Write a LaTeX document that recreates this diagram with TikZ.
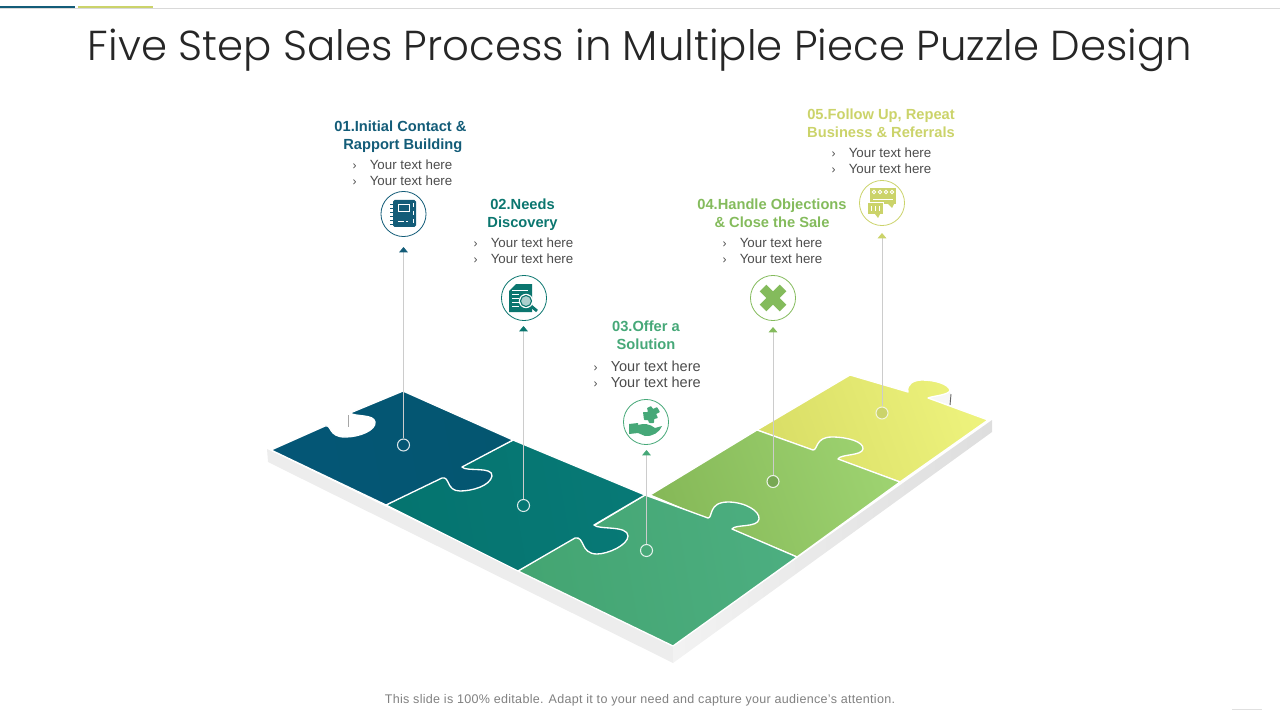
\documentclass[tikz,border=0pt]{standalone}
\usepackage{fontspec}
\setmainfont{Liberation Sans}
\newfontfamily\titlefont{Poppins Light}
\usetikzlibrary{arrows.meta}
\definecolor{cA}{HTML}{135C78}
\definecolor{cB}{HTML}{0B766F}
\definecolor{cC}{HTML}{46A878}
\definecolor{cD}{HTML}{84BB5C}
\definecolor{cE}{HTML}{CBD36A}
\definecolor{pAa}{HTML}{045676}
\definecolor{pAb}{HTML}{045670}
\definecolor{pBa}{HTML}{05746F}
\definecolor{pBb}{HTML}{077976}
\definecolor{pCa}{HTML}{44A572}
\definecolor{pCb}{HTML}{4CAE80}
\definecolor{pDa}{HTML}{86B958}
\definecolor{pDb}{HTML}{9DD270}
\definecolor{pEa}{HTML}{D9DE66}
\definecolor{pEb}{HTML}{EDF27C}
\tikzset{
	head/.style={align=center, font=\bfseries\fontsize{11}{13.5}\selectfont},
	items/.style={align=left, text=black!70, font=\fontsize{10}{12}\selectfont},
	icon/.style={shape=circle, draw=#1, fill=white, line width=0.6pt, minimum size=33.8pt, inner sep=0pt},
	pin/.style={shape=circle, draw=#1, line width=0.8pt, minimum size=9pt, inner sep=0pt},
	stem/.style={draw=black!20, line width=0.75pt, -{Triangle[width=6.5pt, length=4pt, color=#1]}},
	piece/.style={draw=white, line width=1pt, line join=round},
}
\newcommand{\bul}{\makebox[12.8pt][l]{\fontsize{9}{9}\selectfont ›}}
\begin{document}
\begin{tikzpicture}[x=0.75pt, y=-0.75pt]
	% Page and rules:
	\path[use as bounding box] (0, 0) rectangle (1280, 720);
	\draw[black!15, line width=0.75pt] (0, 8.5) -- (1280, 8.5);
	\draw[cA, line width=2.2pt] (0, 7) -- (75, 7);
	\draw[cE, line width=2.2pt] (78, 7) -- (153, 7);
	\draw[black!12, line width=0.75pt] (1232, 709.5) -- (1262, 709.5);
	\node[text=black!85, font=\titlefont\fontsize{31.4}{38}\selectfont](Ttl) at (640, 50){Five Step Sales Process in Multiple Piece Puzzle Design};
	\node[text=black!50, font=\addfontfeature{LetterSpace=2.4}\fontsize{9.4}{11}\selectfont](Ftr) at (640, 700.5){This slide is 100\% editable. Adapt it to your need and capture your audience's attention.};

	% Slab walls:
	\fill[black!7] (267, 449) -- (268, 462) -- (673, 663) -- (673, 646) -- cycle;
	\shade[left color=black!5, right color=black!13] (673, 646) -- (673, 663) -- (992, 432) -- (992, 420) -- cycle;
	\fill[black!3] (908, 392) -- (950, 390) -- (951, 405) -- (940, 402) -- cycle;
	\draw[black!60, line width=0.7pt] (951, 394) -- (950, 405);
	\draw[black!60, line width=0.7pt] (908, 386) -- (908, 392);

	% Puzzle pieces, last first so each tab lies on its neighbour:
	\path[piece, left color=pEa, right color=pEb, shading angle=110]
		(757, 430) -- (850, 375) -- (908, 392)
		.. controls (906, 384) and (914, 380) .. (922, 380)
		.. controls (935, 380) and (948, 384) .. (950, 390)
		.. controls (950, 395) and (932, 396) .. (928, 398)
		-- (988, 420) -- (900, 482) -- cycle;
	\path[piece, left color=pDa, right color=pDb, shading angle=110]
		(650, 495) -- (757, 430) -- (813, 450)
		.. controls (818, 450) and (815, 437) .. (832, 437)
		.. controls (848, 437) and (864, 442) .. (863, 449)
		.. controls (862, 456) and (840, 454) .. (838, 459)
		-- (900, 482) -- (797, 557) -- cycle;
	\path[piece, left color=pCa, right color=pCb, shading angle=100]
		(518, 571) -- (645, 495) -- (708, 518)
		.. controls (713, 518) and (708, 502) .. (728, 502)
		.. controls (745, 502) and (760, 511) .. (759, 519)
		.. controls (758, 528) and (735, 524) .. (732, 529)
		-- (797, 557) -- (673, 646) -- cycle;
	\path[piece, left color=pBa, right color=pBb, shading angle=100]
		(386, 505) -- (513, 440) -- (645, 495) -- (594, 525)
		.. controls (598, 530) and (628, 525) .. (628, 536)
		.. controls (628, 545) and (608, 554) .. (597, 554)
		.. controls (580, 554) and (585, 536) .. (575, 538)
		-- (518, 571) -- cycle;
	\path[piece, left color=pAa, right color=pAb, shading angle=100]
		(271, 450) -- (325, 426)
		.. controls (332, 424) and (328, 437) .. (345, 437)
		.. controls (360, 437) and (376, 430) .. (375, 422)
		.. controls (374, 414) and (355, 417) .. (350, 413)
		-- (403, 391) -- (513, 440) -- (462, 467)
		.. controls (466, 472) and (493, 466) .. (492, 476)
		.. controls (490, 486) and (472, 491) .. (460, 491)
		.. controls (446, 491) and (450, 476) .. (442, 478)
		-- (386, 505) -- cycle;
	\draw[black!35, line width=0.7pt] (348, 415) -- (348, 427);

	% Pins and leaders:
	\node[pin=cA!15!white](P1) at (403.5, 445){};
	\node[pin=cB!15!white](P2) at (523.5, 505.5){};
	\node[pin=cC!15!white](P3) at (646.5, 550.5){};
	\node[pin=cD!15!white, fill=cD!90!black](P4) at (773, 481.5){};
	\node[pin=cE!25!white, fill=cE](P5) at (882, 413){};
	\coordinate (T1) at (403.5, 247);
	\coordinate (T2) at (523.5, 326);
	\coordinate (T3) at (646.5, 450);
	\coordinate (T4) at (773, 327);
	\coordinate (T5) at (882, 233);
	\draw[stem=cA] (P1) -- (T1);
	\draw[stem=cB] (P2) -- (T2);
	\draw[stem=cC] (P3) -- (T3);
	\draw[stem=cD] (P4) -- (T4);
	\draw[stem=cE] (P5) -- (T5);

	% Icon rings:
	\node[icon=cA](Ic1) at (403.5, 214){};
	\node[icon=cB](Ic2) at (524, 298){};
	\node[icon=cC](Ic3) at (646, 422){};
	\node[icon=cD](Ic4) at (773, 298){};
	\node[icon=cE](Ic5) at (882, 203){};

	% Notebook:
	\fill[cA, rounded corners=1.2pt] (393, 200) rectangle (416, 227);
	\draw[white, line width=0.6pt] (398, 204) rectangle (409, 211);
	\draw[white, line width=0.6pt] (398, 221) -- (404, 221) (406, 221) -- (408, 221);
	\draw[white, line width=0.5pt, dashed] (413.5, 203) -- (413.5, 224);
	\foreach \yy in {204, 208, ..., 224}
		\draw[cA, line width=0.6pt] (390, \yy) -- (393, \yy);

	% Document and lens:
	\fill[cB] (516, 284) -- (532, 284) -- (532, 312) -- (509, 312) -- (509, 291) -- cycle;
	\foreach \yy in {294, 298, 302, 306}
		\draw[white, line width=0.6pt] (512, \yy) -- (519, \yy);
	\draw[white, line width=0.6pt] (512, 290) -- (528, 290);
	\draw[cB, line width=2.2pt] (531, 306) -- (537, 311);
	\draw[white, fill=cB!35!white, line width=1pt] (526, 301) circle (6.5);
	\draw[cB, line width=0.8pt] (526, 301) circle (5.5);

	% Hand with puzzle:
	\fill[cC] (629, 424) -- (638, 423) -- (638, 425)
		.. controls (644, 423) and (650, 424) .. (655, 428)
		-- (662, 426)
		.. controls (660, 432) and (652, 437) .. (645, 436)
		-- (638, 433) -- (629, 434) -- cycle;
	\fill[cC, rounded corners=0.5pt] (643, 412) -- (648, 412) -- (647, 408) -- (651, 406) -- (653, 409) -- (657, 407) -- (660, 412) -- (656, 414) -- (658, 418) -- (654, 419) -- (654, 423) -- (649, 423) -- (648, 420) -- (644, 420) -- cycle;

	% Cross:
	\draw[cD, line width=7pt] (763, 288) -- (783, 308);
	\draw[cD, line width=7pt] (783, 288) -- (763, 308);

	% Speech bubbles:
	\fill[cE] (870, 188) rectangle (896, 204);
	\fill[cE] (888, 204) -- (894, 204) -- (892, 208) -- cycle;
	\foreach \xx in {874, 880, 886, 892}
		\draw[white, line width=0.6pt] (\xx, 192) circle (1.7);
	\draw[white, line width=0.6pt] (873, 199) -- (893, 199);
	\draw[white, fill=cE, line width=0.6pt] (867, 202.5) rectangle (883, 214);
	\fill[cE] (875, 214) -- (880, 214) -- (878, 218) -- cycle;
	\draw[white, line width=0.6pt] (871, 206) -- (871, 211) (875, 206) -- (875, 211) (879, 206) -- (879, 211);

	% Labels:
	\node[head, text=cA](H1) at (400.5, 137){01.Initial Contact \&\\\hspace*{3.5pt}Rapport Building};
	\node[items, anchor=west](L1) at (348, 172.5){\bul Your text here\\\bul Your text here};
	\node[head, text=cB](H2) at (522.5, 215){02.Needs\\Discovery};
	\node[items, anchor=west](L2) at (469, 250.5){\bul Your text here\\\bul Your text here};
	\node[head, text=cC](H3) at (646, 335){03.Offer a\\Solution};
	\node[items, anchor=west, font=\fontsize{10.9}{12}\selectfont](L3) at (589, 374){\bul Your text here\\\bul Your text here};
	\node[head, text=cD](H4) at (772, 213){04.Handle Objections\\\& Close the Sale};
	\node[items, anchor=west](L4) at (718, 250.5){\bul Your text here\\\bul Your text here};
	\node[head, text=cE](H5) at (881, 123){05.Follow Up, Repeat\\Business \& Referrals};
	\node[items, anchor=west](L5) at (827, 160.5){\bul Your text here\\\bul Your text here};
\end{tikzpicture}
\end{document}
